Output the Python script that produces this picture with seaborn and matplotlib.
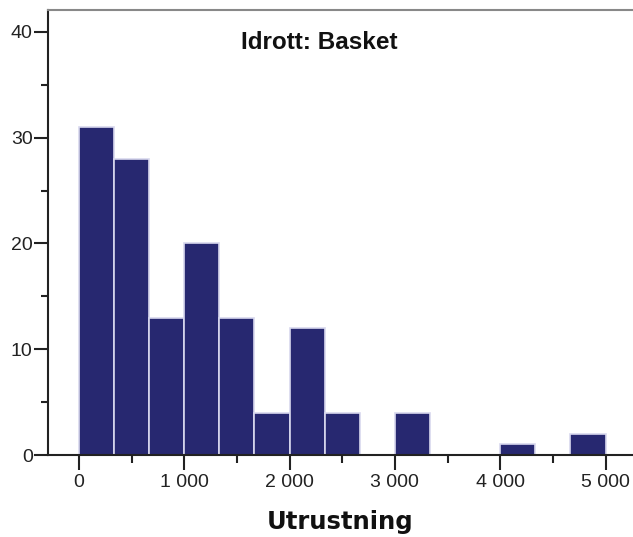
import numpy as np
import pandas as pd
import matplotlib
matplotlib.use("Agg")
import matplotlib.pyplot as plt
import seaborn as sns
from matplotlib.ticker import MultipleLocator

bin_edges = [i * 1000 / 3 for i in range(16)]
counts = [31, 28, 13, 20, 13, 4, 12, 4, 0, 4, 0, 0, 1, 0, 2]
x_ticks = [0, 1000, 2000, 3000, 4000, 5000]
x_tick_labels = ["0", "1 000", "2 000", "3 000", "4 000", "5 000"]
y_ticks = [0, 10, 20, 30, 40]
title = "Idrott: Basket"
xlabel = "Utrustning"

centers = [(bin_edges[i] + bin_edges[i + 1]) / 2 for i in range(len(counts))]
df = pd.DataFrame({"Utrustning": centers, "n": counts})

sns.set_style("white")
plt.rcParams['font.family'] = ['Liberation Sans', 'DejaVu Sans']

fig = plt.figure(figsize=(6.33, 5.37), dpi=100)
ax = fig.add_axes([48 / 633, (537 - 455) / 537, 1 - 48 / 633, (455 - 10) / 537])

sns.histplot(data=df, x="Utrustning", weights="n", bins=bin_edges, ax=ax,
             color="#272870", alpha=1.0, edgecolor="#d8d8ee", linewidth=1.2)

ax.set_xlim(-294, 5261)
ax.set_ylim(0, 42.08)
ax.set_xticks(x_ticks)
ax.set_xticklabels(x_tick_labels)
ax.xaxis.set_minor_locator(MultipleLocator(500))
ax.set_yticks(y_ticks)
ax.yaxis.set_minor_locator(MultipleLocator(5))

ax.tick_params(axis="x", which="major", direction="out", length=11, width=1.5,
               color="#222222", labelsize=14, pad=3, labelcolor="#222222")
ax.tick_params(axis="x", which="minor", direction="out", length=6, width=1.5, color="#222222")
ax.tick_params(axis="y", which="major", direction="out", length=10, width=1.5,
               color="#222222", labelsize=14, pad=1, labelcolor="#222222")
ax.tick_params(axis="y", which="minor", direction="out", length=5, width=1.5, color="#222222")
ax.tick_params(bottom=True, left=True, which="both")

for s in ["left", "bottom"]:
    ax.spines[s].set_color("#222222")
    ax.spines[s].set_linewidth(1.5)
ax.spines["right"].set_visible(False)
ax.spines["top"].set_color("#888888")
ax.spines["top"].set_linewidth(1.5)

ax.set_ylabel("")
ax.set_xlabel(xlabel, fontsize=17.5, fontweight="bold", color="#111111", labelpad=13,
              family=["DejaVu Sans"])
ax.text(0.464, 0.928, title, transform=ax.transAxes, ha="center", va="center",
        fontsize=17.5, fontweight="bold", color="#111111")

fig.savefig("out.png", dpi=100)
